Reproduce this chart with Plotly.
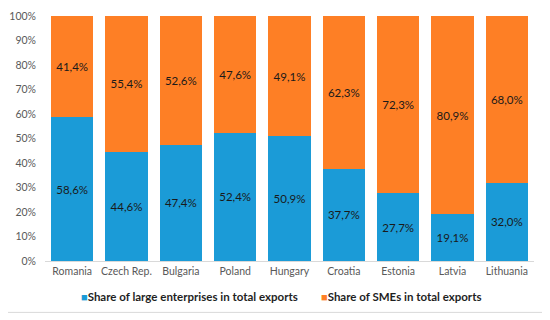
import plotly.graph_objects as go

countries = ["Romania", "Czech Rep.", "Bulgaria", "Poland", "Hungary", "Croatia", "Estonia", "Latvia", "Lithuania"]
large = [58.6, 44.6, 47.4, 52.4, 50.9, 37.7, 27.7, 19.1, 32.0]
smes = [41.4, 55.4, 52.6, 47.6, 49.1, 62.3, 72.3, 80.9, 68.0]
series_names = ["Share of large enterprises in total exports", "Share of SMEs in total exports"]
ytick_vals = [0, 10, 20, 30, 40, 50, 60, 70, 80, 90, 100]
ytick_text = [f"{v}%" for v in ytick_vals]

BLUE, ORANGE = "#1B9BD7", "#FE7F25"


def fmt(v):
    return f"{v:.1f}%".replace(".", ",")


FONT = "Lato, Open Sans, sans-serif"

fig = go.Figure()
for vals, name, col in [(large, series_names[0], BLUE), (smes, series_names[1], ORANGE)]:
    fig.add_trace(go.Bar(
        x=countries, y=vals, name=name,
        marker=dict(color=col, line=dict(width=0)),
        text=[fmt(v) for v in vals], textposition="inside", insidetextanchor="middle",
        textfont=dict(color="#1a1a1a", size=11.5, family=FONT), textangle=0,
        showlegend=False,
    ))

# page is shown with an 8px body margin; work in screen pixels and convert
OFF = 8
W, H = 550 - OFF, 320 - OFF
plot_l, plot_r, plot_t, plot_b = 45, 534, 16, 261.5  # screen pixels
ml, mr = plot_l - OFF, W - (plot_r - OFF)
mt, mb = plot_t - OFF, H - (plot_b - OFF)
pw, ph = W - ml - mr, H - mt - mb


def px_x(x):
    return (x - OFF - ml) / pw


def px_y(y):
    return (H - mb - (y - OFF)) / ph


legend_x = [79, 319]
annotations = []
for name, col, lx in zip(series_names, [BLUE, ORANGE], legend_x):
    annotations.append(dict(
        xref="paper", yref="paper", x=px_x(lx), y=px_y(297), xanchor="left", yanchor="middle",
        showarrow=False,
        text=f"<span style='color:{col};font-size:11px'>■</span><b>{name}</b>",
        font=dict(size=11.5, color="#1f1f1f", family=FONT),
    ))

fig.update_layout(
    width=W, height=H,
    barmode="stack", bargap=0.22,
    margin=dict(l=ml, r=mr, t=mt, b=mb, autoexpand=False),
    paper_bgcolor="white", plot_bgcolor="white",
    font=dict(family=FONT, color="#595959", size=10.5),
    uniformtext=dict(minsize=8, mode="show"),
    showlegend=False,
    xaxis=dict(showgrid=False, showline=True, linecolor="#D9D9D9", linewidth=1,
               ticks="", automargin=False, tickfont=dict(size=10.5, color="#595959")),
    yaxis=dict(range=[0, 100], tickvals=ytick_vals, ticktext=ytick_text, showgrid=False,
               showline=False, zeroline=False, ticks="", ticklabelstandoff=8, automargin=False,
               tickfont=dict(size=10.5, color="#595959")),
    annotations=annotations,
    shapes=[dict(type="rect", xref="paper", yref="paper",
                 x0=px_x(5), x1=px_x(545), y0=px_y(313), y1=px_y(4),
                 line=dict(color="#D9D9D9", width=1), fillcolor="rgba(0,0,0,0)", layer="below")],
)

fig.write_html("out.html")
